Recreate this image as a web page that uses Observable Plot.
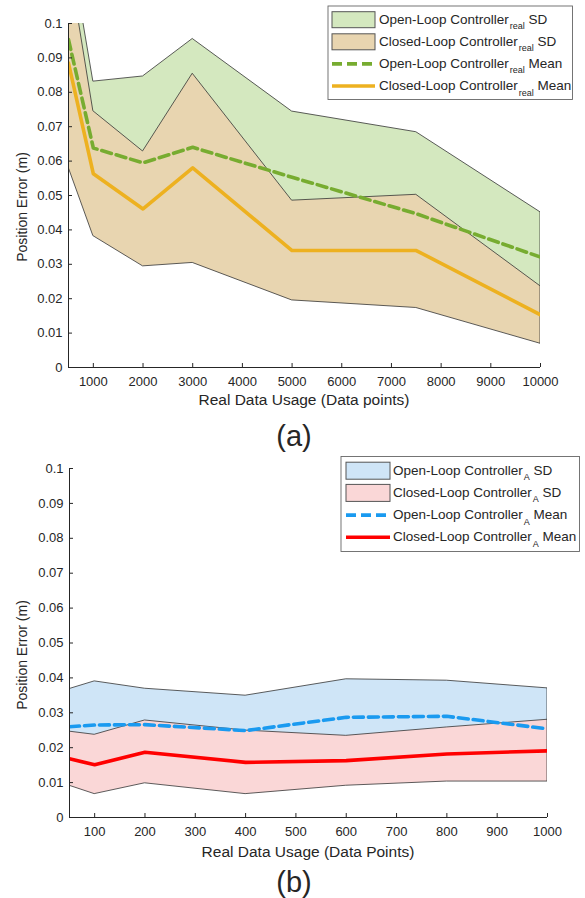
<!DOCTYPE html>
<html><head><meta charset="utf-8">
<script src="https://cdn.jsdelivr.net/npm/d3@7"></script>
<script src="https://cdn.jsdelivr.net/npm/@observablehq/plot@0.6"></script>
<style>
body{margin:0;background:#fff;}
#fig{position:relative;width:585px;height:898px;background:#fff;overflow:hidden;}
#fig svg{position:absolute;left:0;}
</style></head><body><div id="fig"></div>
<script>
// ---------- Panel (a): real-data controllers ----------
const xA = [500, 1000, 2000, 3000, 5000, 7500, 10000];
const openRealMean  = [0.0953, 0.0638, 0.0595, 0.0640, 0.0553, 0.0447, 0.0321];
const openRealUpper = [0.1258, 0.0831, 0.0846, 0.0955, 0.0744, 0.0684, 0.0451];
const openRealLower = [0.0650, 0.0445, 0.0344, 0.0325, 0.0362, 0.0210, 0.0191];
const closedRealMean  = [0.0885, 0.0563, 0.0461, 0.0580, 0.0340, 0.0340, 0.0153];
const closedRealUpper = [0.1190, 0.0745, 0.0628, 0.0854, 0.0485, 0.0502, 0.0236];
const closedRealLower = [0.0582, 0.0382, 0.0294, 0.0304, 0.0195, 0.0173, 0.0069];
const xDomainA = [500, 10000];
const xTicksA = [1000, 2000, 3000, 4000, 5000, 6000, 7000, 8000, 9000, 10000];

// ---------- Panel (b): controller A ----------
const xB = [50, 100, 200, 400, 600, 800, 1000];
const openAMean  = [0.0260, 0.0265, 0.0266, 0.0249, 0.0287, 0.0290, 0.0254];
const openAUpper = [0.0368, 0.0390, 0.0369, 0.0349, 0.0396, 0.0392, 0.0370];
const openALower = [0.0152, 0.0140, 0.0163, 0.0149, 0.0178, 0.0188, 0.0138];
const closedAMean  = [0.0168, 0.0151, 0.0187, 0.0158, 0.0163, 0.0182, 0.0191];
const closedAUpper = [0.0246, 0.0237, 0.0278, 0.0249, 0.0234, 0.0258, 0.0280];
const closedALower = [0.0091, 0.0067, 0.0098, 0.0067, 0.0091, 0.0103, 0.0103];
const xDomainB = [50, 1000];
const xTicksB = [100, 200, 300, 400, 500, 600, 700, 800, 900, 1000];

// shared y axis
const yDomain = [0, 0.1];
const yTicks = [0, 0.01, 0.02, 0.03, 0.04, 0.05, 0.06, 0.07, 0.08, 0.09, 0.1];
const yTickLabels = ["0", "0.01", "0.02", "0.03", "0.04", "0.05", "0.06", "0.07", "0.08", "0.09", "0.1"];

// texts
const yLabel = "Position Error (m)";
const xLabelA = "Real Data Usage (Data points)";
const xLabelB = "Real Data Usage (Data Points)";
const legendA = [["Open-Loop Controller", "real", " SD"], ["Closed-Loop Controller", "real", " SD"], ["Open-Loop Controller", "real", " Mean"], ["Closed-Loop Controller", "real", " Mean"]];
const legendB = [["Open-Loop Controller", "A", " SD"], ["Closed-Loop Controller", "A", " SD"], ["Open-Loop Controller", "A", " Mean"], ["Closed-Loop Controller", "A", " Mean"]];

const FONT = '"Liberation Sans", Arial, Helvetica, sans-serif';
const AX = "#262626";
const EDGE = "#333333";
const DASH = "10,5";

const colA = {openFill: "#d4e8bf", closedFill: "#e8d5b0", openLine: "#77ac30", closedLine: "#edb120"};
const colB = {openFill: "#cfe5f7", closedFill: "#fad7d7", openLine: "#1a9af0", closedLine: "#ff0000"};

function panel(cfg) {
  const rows = cfg.x.map((x, i) => ({x, om: cfg.om[i], ou: cfg.ou[i], ol: cfg.ol[i], cm: cfg.cm[i], cu: cfg.cu[i], cl: cfg.cl[i]}));
  const c = cfg.col;
  return Plot.plot({
    width: 585, height: cfg.height,
    marginTop: cfg.mt, marginBottom: cfg.mb, marginLeft: cfg.ml, marginRight: cfg.mr,
    x: {domain: cfg.xDomain, label: null},
    y: {domain: yDomain, label: null},
    style: {fontFamily: FONT, fontSize: "13px", color: AX, background: "transparent", overflow: "visible"},
    marks: [
      Plot.areaY(rows, {x: "x", y1: "ol", y2: "ou", fill: c.openFill, stroke: EDGE, strokeWidth: 0.8, clip: true}),
      Plot.areaY(rows, {x: "x", y1: "cl", y2: "cu", fill: c.closedFill, stroke: EDGE, strokeWidth: 0.8, clip: true}),
      Plot.lineY(rows, {x: "x", y: "om", stroke: c.openLine, strokeWidth: 3.6, strokeDasharray: DASH, clip: true}),
      Plot.lineY(rows, {x: "x", y: "cm", stroke: c.closedLine, strokeWidth: 3.6, clip: true}),
      Plot.ruleY([yDomain[0]], {stroke: AX, strokeWidth: 1}),
      Plot.ruleX([cfg.xDomain[0]], {stroke: AX, strokeWidth: 1}),
      Plot.axisX({ticks: cfg.xTicks, tickSize: -4, tickPadding: 13, tickFormat: d => String(d), fontSize: 13, label: null}),
      Plot.axisY({ticks: yTicks, tickSize: -4, tickPadding: 10, tickFormat: d => yTickLabels[yTicks.indexOf(d)], fontSize: 13, label: null})
    ]
  });
}

const fig = document.getElementById("fig");
const pA = panel({x: xA, om: openRealMean, ou: openRealUpper, ol: openRealLower, cm: closedRealMean, cu: closedRealUpper, cl: closedRealLower,
  xDomain: xDomainA, xTicks: xTicksA, col: colA, height: 410, mt: 23, mb: 43, ml: 68, mr: 45});
pA.style.top = "0px";
fig.appendChild(pA);
const pB = panel({x: xB, om: openAMean, ou: openAUpper, ol: openALower, cm: closedAMean, cu: closedAUpper, cl: closedALower,
  xDomain: xDomainB, xTicks: xTicksB, col: colB, height: 410, mt: 23, mb: 38, ml: 69, mr: 38});
pB.style.top = "445px";
fig.appendChild(pB);

// ---------- overlay: labels and legends ----------
const svg = d3.select(fig).append("svg").attr("width", 585).attr("height", 898).style("top", "0px")
  .attr("font-family", FONT).attr("fill", AX);

function yLab(cy) {
  svg.append("text").attr("transform", `translate(27,${cy}) rotate(-90)`).attr("text-anchor", "middle")
    .attr("font-size", 14).text(yLabel);
}
yLab(207); yLab(655);
svg.append("text").attr("x", 304).attr("y", 405).attr("text-anchor", "middle").attr("font-size", 15.5).text(xLabelA);
svg.append("text").attr("x", 308).attr("y", 857).attr("text-anchor", "middle").attr("font-size", 15.5).text(xLabelB);
svg.append("text").attr("x", 294).attr("y", 446).attr("text-anchor", "middle").attr("font-size", 29).text("(a)");
svg.append("text").attr("x", 294).attr("y", 892).attr("text-anchor", "middle").attr("font-size", 29).text("(b)");

function legend(L, labels, col) {
  svg.append("rect").attr("x", L.x0).attr("y", L.y0).attr("width", L.x1 - L.x0).attr("height", L.y1 - L.y0)
    .attr("fill", "#fff").attr("stroke", "#666").attr("stroke-width", 0.9);
  const fills = [col.openFill, col.closedFill];
  const lines = [col.openLine, col.closedLine];
  labels.forEach((lab, i) => {
    const cy = L.cy0 + i * L.dy;
    if (i < 2) {
      svg.append("rect").attr("x", L.sx0).attr("y", cy - L.sh / 2).attr("width", L.sx1 - L.sx0).attr("height", L.sh)
        .attr("fill", fills[i]).attr("stroke", "#555").attr("stroke-width", 1);
    } else {
      svg.append("line").attr("x1", L.sx0).attr("x2", L.sx1).attr("y1", cy).attr("y2", cy)
        .attr("stroke", lines[i - 2]).attr("stroke-width", 3.6).attr("stroke-dasharray", i === 2 ? DASH : null);
    }
    const t = svg.append("text").attr("x", L.tx).attr("y", cy + 4).attr("font-size", 13.5);
    t.append("tspan").text(lab[0]);
    t.append("tspan").attr("dx", 1).attr("dy", 5.5).attr("font-size", 9).text(lab[1]);
    t.append("tspan").attr("dy", -5.5).text(lab[2]);
  });
}
legend({x0: 328, x1: 572.5, y0: 6, y1: 99.5, sx0: 332, sx1: 375, sh: 16, cy0: 19.7, dy: 22.1, tx: 379}, legendA, colA);
legend({x0: 341, x1: 579.5, y0: 456.5, y1: 551.5, sx0: 346, sx1: 390, sh: 17, cy0: 470.7, dy: 22.2, tx: 393}, legendB, colB);
</script></body></html>
